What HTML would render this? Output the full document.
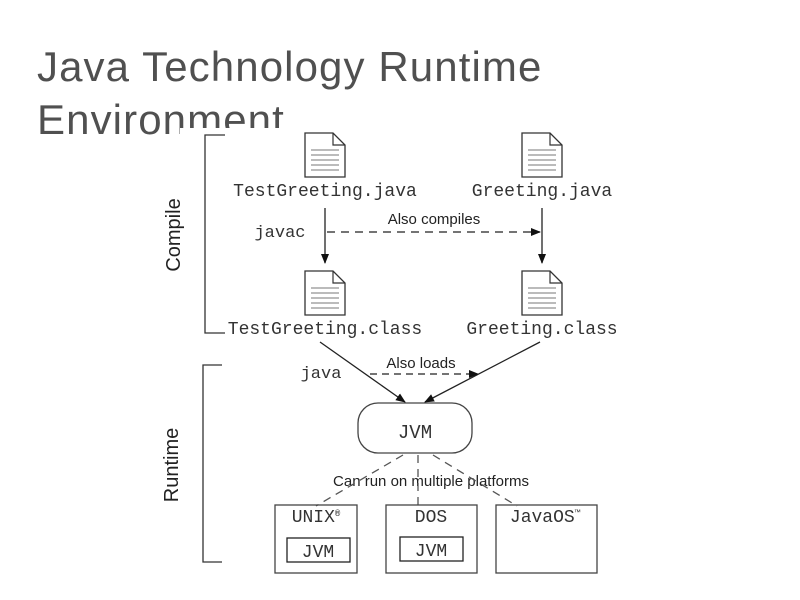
<!DOCTYPE html>
<html><head><style>
body{margin:0;width:800px;height:600px;background:#fff;overflow:hidden;position:relative;font-family:"Liberation Sans",sans-serif}
.t{position:absolute;left:37px;color:#505050;font-size:42px;letter-spacing:1.1px}
</style></head><body>
<div class="t" style="top:43px">Java Technology Runtime</div>
<div class="t" style="top:96px">Environment</div>
<svg width="800" height="600" style="position:absolute;left:0;top:0">
<defs><marker id="a" markerWidth="10" markerHeight="10" refX="9" refY="5" orient="auto" markerUnits="userSpaceOnUse"><path d="M0,1 L10,5 L0,9z" fill="#111"/></marker>
<g id="doc"><path d="M0,0 H28 L40,12 V44 H0z" fill="#fff" stroke="#333" stroke-width="1.3"/><path d="M28,0 V12 H40" fill="none" stroke="#333" stroke-width="1.2"/><path d="M6,17H34M6,22H34M6,27H34M6,32H34M6,37H34" stroke="#777" stroke-width="1"/></g></defs>
<rect x="180" y="128" width="440" height="12" fill="#fff"/>
<g fill="none" stroke="#333" stroke-width="1.3">
<path d="M225,135H205V333H225"/><path d="M222,365H203V562H222"/>
</g>
<text transform="translate(180,235) rotate(-90)" font-size="20" text-anchor="middle" fill="#222">Compile</text>
<text transform="translate(178,465) rotate(-90)" font-size="20" text-anchor="middle" fill="#222">Runtime</text>
<use href="#doc" x="305" y="133"/><use href="#doc" x="522" y="133"/>
<use href="#doc" x="305" y="271"/><use href="#doc" x="522" y="271"/>
<g font-family="Liberation Mono,monospace" font-size="18" fill="#333" text-anchor="middle">
<text x="325" y="196">TestGreeting.java</text><text x="542" y="196">Greeting.java</text>
<text x="325" y="334">TestGreeting.class</text><text x="542" y="334">Greeting.class</text>
<text x="280" y="237" font-size="17">javac</text><text x="321" y="378" font-size="17">java</text>
<text x="415" y="438" font-size="19">JVM</text>
<text x="316" y="522" font-size="18">UNIX<tspan font-size="9" dy="-6">®</tspan></text>
<text x="431" y="522" font-size="18">DOS</text>
<text x="545" y="522" font-size="18">JavaOS<tspan font-size="9" dy="-6">™</tspan></text>
<text x="318" y="557" font-size="18">JVM</text><text x="431" y="556" font-size="18">JVM</text>
</g>
<g font-size="15" fill="#222" text-anchor="middle">
<text x="434" y="224">Also compiles</text><text x="421" y="368">Also loads</text>
<text x="431" y="486">Can run on multiple platforms</text>
</g>
<g stroke="#222" stroke-width="1.3" fill="none">
<path d="M325,208V263" marker-end="url(#a)"/><path d="M542,208V263" marker-end="url(#a)"/>
<path d="M327,232H540" stroke-dasharray="8,6" marker-end="url(#a)"/>
<path d="M320,342L405,402" marker-end="url(#a)"/><path d="M540,342L425,402" marker-end="url(#a)"/>
<path d="M370,374H478" stroke-dasharray="7,5" marker-end="url(#a)"/>
<rect x="358" y="403" width="114" height="50" rx="20" stroke="#444"/>
<path d="M403,455L316,506M418,455V506M433,455L517,506" stroke="#555" stroke-dasharray="8,6"/>
<rect x="275" y="505" width="82" height="68" stroke="#444"/>
<rect x="386" y="505" width="91" height="68" stroke="#444"/>
<rect x="496" y="505" width="101" height="68" stroke="#444"/>
<rect x="287" y="538" width="63" height="24"/><rect x="400" y="537" width="63" height="24"/>
</g>
</svg>
</body></html>
